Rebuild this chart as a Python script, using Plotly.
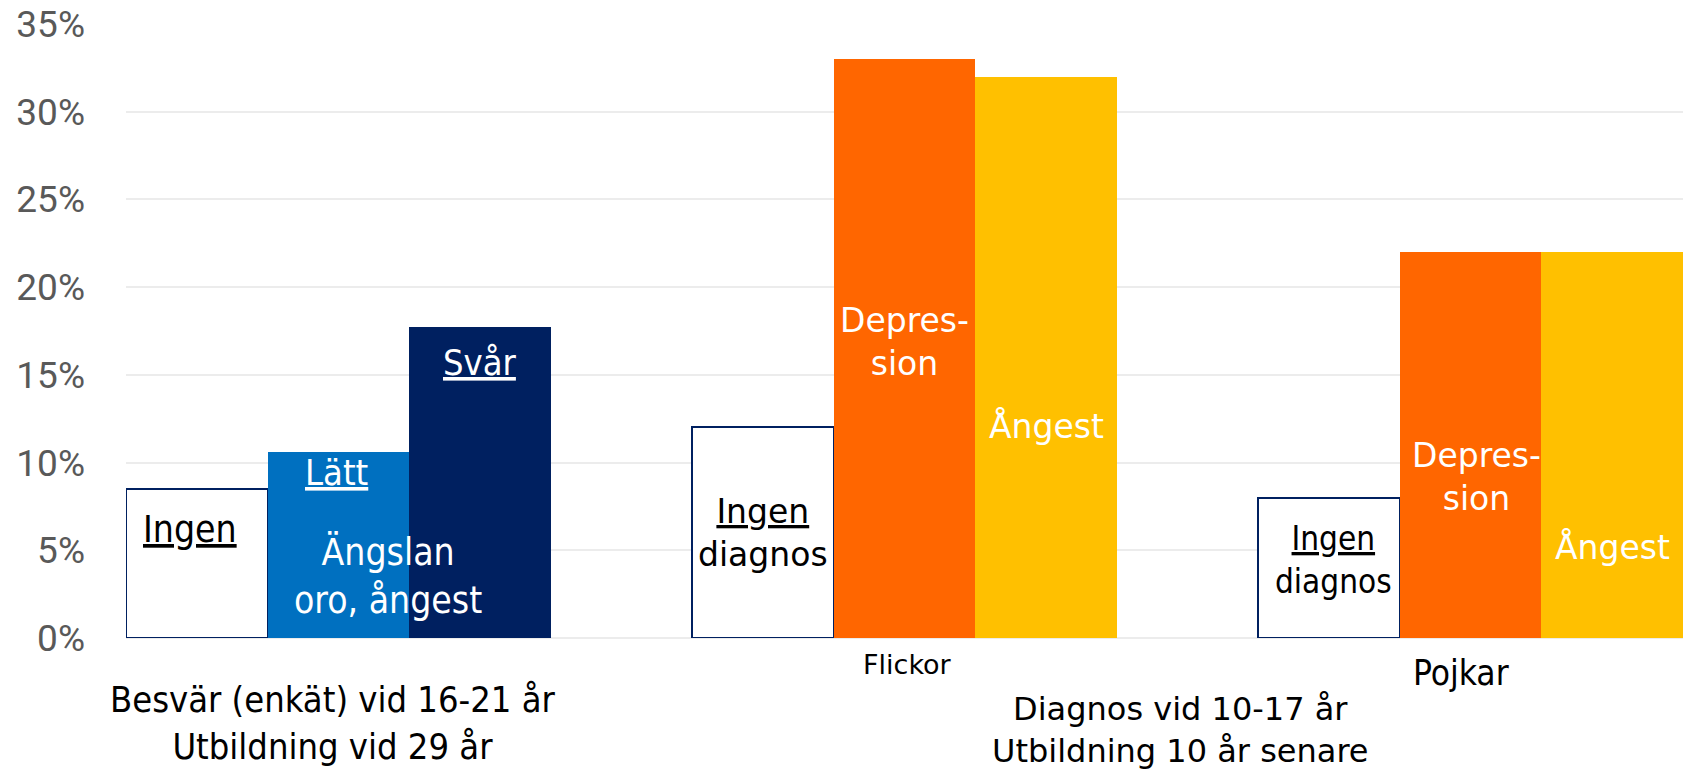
import plotly.graph_objects as go

# ---- data ----
group_names = ["Besvär", "Flickor", "Pojkar"]
bar_labels_besvar = ["Ingen", "Lätt", "Svår"]
bar_labels_flickor = ["Ingen diagnos", "Depression", "Ångest"]
bar_labels_pojkar = ["Ingen diagnos", "Depression", "Ångest"]
values_besvar = [8.5, 10.6, 17.7]
values_flickor = [12.0, 33.0, 32.0]
values_pojkar = [8.0, 22.0, 22.0]
y_ticks = [0, 5, 10, 15, 20, 25, 30, 35]

# ---- styles ----
NAVY = "#002060"
BLUE = "#0070C0"
ORANGE = "#FF6600"
GOLD = "#FFC000"
colors_besvar = ["white", BLUE, NAVY]
colors_diag = ["white", ORANGE, GOLD]
Y_MAX = 35

groups = [
    (bar_labels_besvar, values_besvar, colors_besvar),
    (bar_labels_flickor, values_flickor, colors_diag),
    (bar_labels_pojkar, values_pojkar, colors_diag),
]

xs, ys, cols, lw, lc, names = [], [], [], [], [], []
for gi, (labs, vals, cs) in enumerate(groups):
    for bi, (lab, v, c) in enumerate(zip(labs, vals, cs)):
        xs.append(gi * 4 + bi)
        ys.append(v)
        cols.append(c)
        names.append(lab)
        if c == "white":
            lw.append(2)
            lc.append(NAVY)
        else:
            lw.append(0)
            lc.append(c)

fig = go.Figure()
fig.add_trace(go.Bar(
    x=xs, y=ys, width=1.0,
    marker=dict(color=cols, line=dict(width=lw, color=lc)),
    text=names, textposition="none", hoverinfo="y+text",
    showlegend=False,
))

COND = "DejaVu Sans Condensed, Liberation Sans Narrow, DejaVu Sans, sans-serif"
WIDE = "DejaVu Sans, Verdana, sans-serif"

def ann(x, y, text, size, color, family):
    # y given in axis units; placed in paper coords so it may sit below the axis
    fig.add_annotation(x=x, y=y / Y_MAX, xref="x", yref="paper", text=text, showarrow=False,
                       font=dict(size=size, color=color, family=family),
                       xanchor="center", yanchor="middle", align="center")

# group 1 labels
ann(-0.05, 6.2, "<u>Ingen</u>", 37, "black", COND)
ann(0.99, 9.43, "<u>Lätt</u>", 36, "white", COND)
ann(2.0, 15.7, "<u>Svår</u>", 36, "white", COND)
ann(1.35, 3.48, "Ängslan<br>oro, ångest", 37, "white", COND)
# group 2 labels
ann(4.0, 5.96, "<u>Ingen</u><br>diagnos", 33, "black", WIDE)
ann(5.0, 16.85, "Depres-<br>sion", 33, "white", WIDE)
ann(6.0, 12.1, "Ångest", 33, "white", WIDE)
ann(5.02, -1.51, "Flickor", 27, "black", WIDE)
# group 3 labels
ann(8.03, 4.42, "<u>Ingen</u><br>diagnos", 33, "black", COND)
ann(9.04, 9.18, "Depres-<br>sion", 33, "white", WIDE)
ann(10.0, 5.16, "Ångest", 33, "white", WIDE)
ann(8.93, -1.97, "Pojkar", 35, "black", COND)
# titles
ann(0.96, -4.82, "Besvär (enkät) vid 16-21 år<br>Utbildning vid 29 år", 36, "black", COND)
ann(6.95, -5.25, "Diagnos vid 10-17 år<br>Utbildning 10 år senare", 32, "black", WIDE)

fig.update_layout(
    width=1683, height=770,
    margin=dict(l=126, r=0, t=24, b=132),
    paper_bgcolor="white", plot_bgcolor="white",
    bargap=0,
    xaxis=dict(range=[-0.5, 10.5], showgrid=False, showticklabels=False,
               zeroline=False, showline=False, ticks=""),
    yaxis=dict(range=[0, Y_MAX], tickvals=y_ticks, ticktext=[f"{v}%" for v in y_ticks],
               showgrid=True, gridcolor="#ececec", gridwidth=2,
               zeroline=True, zerolinecolor="#ececec", zerolinewidth=2,
               showline=False, ticks="", ticklabelstandoff=40,
               tickfont=dict(family="Roboto, sans-serif", size=37, color="#595959")),
)

fig.write_html("out.html", config={"displayModeBar": False},
               post_script="document.body.style.margin='0';")
